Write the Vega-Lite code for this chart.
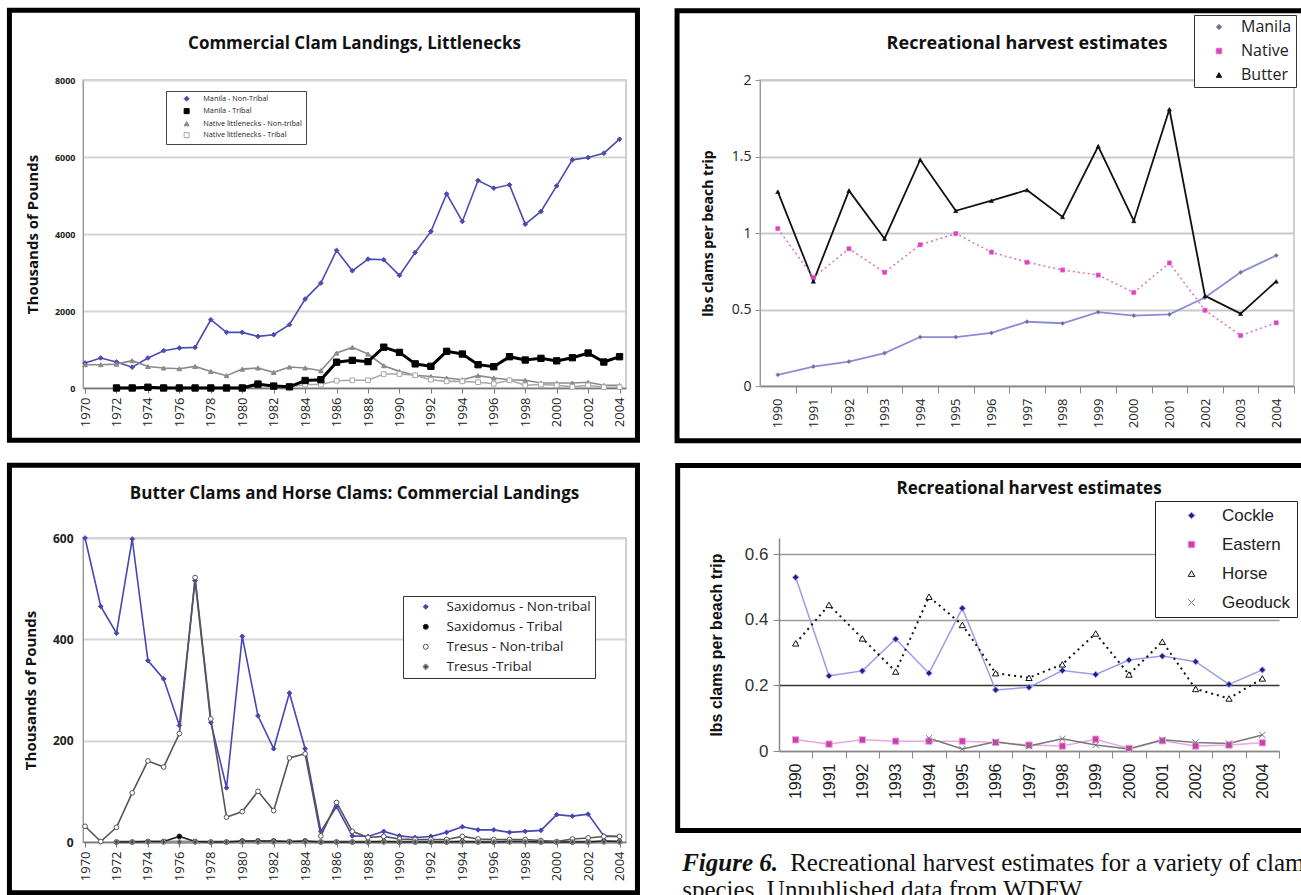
{
"$schema": "https://vega.github.io/schema/vega-lite/v6.json",
"padding": {"left": 5, "top": 6, "right": 0, "bottom": 0},
"background": "white",
"config": {"view": {"stroke": null}, "title": {"font": "Open Sans", "fontWeight": "bold", "color": "#111"}, "axis": {"labelFont": "Open Sans", "titleFont": "Open Sans", "labelColor": "#222", "titleColor": "#111", "grid": false, "labelOverlap": false}, "legend": {"labelFont": "Open Sans", "labelColor": "#222"}},
"datasets": {
"lit": [
{"year":1970,"Manila - Non-Tribal":650,"Native littlenecks - Non-tribal":605},
{"year":1971,"Manila - Non-Tribal":780,"Native littlenecks - Non-tribal":605},
{"year":1972,"Manila - Non-Tribal":675,"Manila - Tribal":0,"Native littlenecks - Non-tribal":620,"Native littlenecks - Tribal":20},
{"year":1973,"Manila - Non-Tribal":540,"Manila - Tribal":0,"Native littlenecks - Non-tribal":710,"Native littlenecks - Tribal":20},
{"year":1974,"Manila - Non-Tribal":780,"Manila - Tribal":20,"Native littlenecks - Non-tribal":560,"Native littlenecks - Tribal":30},
{"year":1975,"Manila - Non-Tribal":970,"Manila - Tribal":0,"Native littlenecks - Non-tribal":520,"Native littlenecks - Tribal":20},
{"year":1976,"Manila - Non-Tribal":1040,"Manila - Tribal":0,"Native littlenecks - Non-tribal":500,"Native littlenecks - Tribal":20},
{"year":1977,"Manila - Non-Tribal":1055,"Manila - Tribal":0,"Native littlenecks - Non-tribal":560,"Native littlenecks - Tribal":20},
{"year":1978,"Manila - Non-Tribal":1773,"Manila - Tribal":0,"Native littlenecks - Non-tribal":430,"Native littlenecks - Tribal":20},
{"year":1979,"Manila - Non-Tribal":1445,"Manila - Tribal":0,"Native littlenecks - Non-tribal":320,"Native littlenecks - Tribal":20},
{"year":1980,"Manila - Non-Tribal":1445,"Manila - Tribal":0,"Native littlenecks - Non-tribal":490,"Native littlenecks - Tribal":20},
{"year":1981,"Manila - Non-Tribal":1340,"Manila - Tribal":100,"Native littlenecks - Non-tribal":520,"Native littlenecks - Tribal":130},
{"year":1982,"Manila - Non-Tribal":1384,"Manila - Tribal":50,"Native littlenecks - Non-tribal":406,"Native littlenecks - Tribal":40},
{"year":1983,"Manila - Non-Tribal":1644,"Manila - Tribal":30,"Native littlenecks - Non-tribal":545,"Native littlenecks - Tribal":30},
{"year":1984,"Manila - Non-Tribal":2310,"Manila - Tribal":195,"Native littlenecks - Non-tribal":520,"Native littlenecks - Tribal":90},
{"year":1985,"Manila - Non-Tribal":2725,"Manila - Tribal":215,"Native littlenecks - Non-tribal":450,"Native littlenecks - Tribal":90},
{"year":1986,"Manila - Non-Tribal":3573,"Manila - Tribal":670,"Native littlenecks - Non-tribal":908,"Native littlenecks - Tribal":190},
{"year":1987,"Manila - Non-Tribal":3045,"Manila - Tribal":718,"Native littlenecks - Non-tribal":1055,"Native littlenecks - Tribal":200},
{"year":1988,"Manila - Non-Tribal":3348,"Manila - Tribal":685,"Native littlenecks - Non-tribal":882,"Native littlenecks - Tribal":200},
{"year":1989,"Manila - Non-Tribal":3330,"Manila - Tribal":1060,"Native littlenecks - Non-tribal":580,"Native littlenecks - Tribal":363},
{"year":1990,"Manila - Non-Tribal":2924,"Manila - Tribal":925,"Native littlenecks - Non-tribal":432,"Native littlenecks - Tribal":363},
{"year":1991,"Manila - Non-Tribal":3520,"Manila - Tribal":627,"Native littlenecks - Non-tribal":330,"Native littlenecks - Tribal":330},
{"year":1992,"Manila - Non-Tribal":4066,"Manila - Tribal":563,"Native littlenecks - Non-tribal":300,"Native littlenecks - Tribal":216},
{"year":1993,"Manila - Non-Tribal":5043,"Manila - Tribal":952,"Native littlenecks - Non-tribal":260,"Native littlenecks - Tribal":173},
{"year":1994,"Manila - Non-Tribal":4325,"Manila - Tribal":882,"Native littlenecks - Non-tribal":216,"Native littlenecks - Tribal":173},
{"year":1995,"Manila - Non-Tribal":5389,"Manila - Tribal":606,"Native littlenecks - Non-tribal":320,"Native littlenecks - Tribal":150},
{"year":1996,"Manila - Non-Tribal":5190,"Manila - Tribal":554,"Native littlenecks - Non-tribal":260,"Native littlenecks - Tribal":110},
{"year":1997,"Manila - Non-Tribal":5277,"Manila - Tribal":813,"Native littlenecks - Non-tribal":216,"Native littlenecks - Tribal":200},
{"year":1998,"Manila - Non-Tribal":4256,"Manila - Tribal":727,"Native littlenecks - Non-tribal":200,"Native littlenecks - Tribal":70},
{"year":1999,"Manila - Non-Tribal":4585,"Manila - Tribal":770,"Native littlenecks - Non-tribal":130,"Native littlenecks - Tribal":90},
{"year":2000,"Manila - Non-Tribal":5251,"Manila - Tribal":705,"Native littlenecks - Non-tribal":130,"Native littlenecks - Tribal":70},
{"year":2001,"Manila - Non-Tribal":5926,"Manila - Tribal":787,"Native littlenecks - Non-tribal":130,"Native littlenecks - Tribal":30},
{"year":2002,"Manila - Non-Tribal":5986,"Manila - Tribal":908,"Native littlenecks - Non-tribal":150,"Native littlenecks - Tribal":70},
{"year":2003,"Manila - Non-Tribal":6099,"Manila - Tribal":675,"Native littlenecks - Non-tribal":70,"Native littlenecks - Tribal":20},
{"year":2004,"Manila - Non-Tribal":6462,"Manila - Tribal":813,"Native littlenecks - Non-tribal":70,"Native littlenecks - Tribal":20}
],
"rec1": [
{"year":1990,"Manila":0.073,"Native":1.029,"Butter":1.27},
{"year":1991,"Manila":0.127,"Native":0.71,"Butter":0.684},
{"year":1992,"Manila":0.16,"Native":0.897,"Butter":1.277},
{"year":1993,"Manila":0.215,"Native":0.743,"Butter":0.963},
{"year":1994,"Manila":0.32,"Native":0.923,"Butter":1.479},
{"year":1995,"Manila":0.32,"Native":0.996,"Butter":1.145},
{"year":1996,"Manila":0.347,"Native":0.875,"Butter":1.211},
{"year":1997,"Manila":0.42,"Native":0.809,"Butter":1.281},
{"year":1998,"Manila":0.41,"Native":0.758,"Butter":1.105},
{"year":1999,"Manila":0.483,"Native":0.725,"Butter":1.567},
{"year":2000,"Manila":0.46,"Native":0.611,"Butter":1.079},
{"year":2001,"Manila":0.468,"Native":0.804,"Butter":1.809},
{"year":2002,"Manila":0.578,"Native":0.495,"Butter":0.589},
{"year":2003,"Manila":0.743,"Native":0.33,"Butter":0.473},
{"year":2004,"Manila":0.853,"Native":0.413,"Butter":0.684}
],
"bh": [
{"year":1970,"Saxidomus - Non-tribal":600,"Tresus - Non-tribal":31},
{"year":1971,"Saxidomus - Non-tribal":465,"Tresus - Non-tribal":1},
{"year":1972,"Saxidomus - Non-tribal":412,"Saxidomus - Tribal":0,"Tresus - Non-tribal":29,"Tresus -Tribal":0},
{"year":1973,"Saxidomus - Non-tribal":598,"Saxidomus - Tribal":0,"Tresus - Non-tribal":97,"Tresus -Tribal":0},
{"year":1974,"Saxidomus - Non-tribal":358,"Saxidomus - Tribal":1,"Tresus - Non-tribal":160,"Tresus -Tribal":0},
{"year":1975,"Saxidomus - Non-tribal":322,"Saxidomus - Tribal":1,"Tresus - Non-tribal":148,"Tresus -Tribal":0},
{"year":1976,"Saxidomus - Non-tribal":230,"Saxidomus - Tribal":11,"Tresus - Non-tribal":214,"Tresus -Tribal":0},
{"year":1977,"Saxidomus - Non-tribal":516,"Saxidomus - Tribal":1,"Tresus - Non-tribal":522,"Tresus -Tribal":0},
{"year":1978,"Saxidomus - Non-tribal":236,"Saxidomus - Tribal":0,"Tresus - Non-tribal":243,"Tresus -Tribal":0},
{"year":1979,"Saxidomus - Non-tribal":107,"Saxidomus - Tribal":0,"Tresus - Non-tribal":49,"Tresus -Tribal":0},
{"year":1980,"Saxidomus - Non-tribal":406,"Saxidomus - Tribal":2,"Tresus - Non-tribal":60,"Tresus -Tribal":0},
{"year":1981,"Saxidomus - Non-tribal":249,"Saxidomus - Tribal":2,"Tresus - Non-tribal":100,"Tresus -Tribal":0},
{"year":1982,"Saxidomus - Non-tribal":184,"Saxidomus - Tribal":2,"Tresus - Non-tribal":62,"Tresus -Tribal":0},
{"year":1983,"Saxidomus - Non-tribal":294,"Saxidomus - Tribal":1,"Tresus - Non-tribal":166,"Tresus -Tribal":0},
{"year":1984,"Saxidomus - Non-tribal":184,"Saxidomus - Tribal":2,"Tresus - Non-tribal":174,"Tresus -Tribal":0},
{"year":1985,"Saxidomus - Non-tribal":21,"Saxidomus - Tribal":0,"Tresus - Non-tribal":12,"Tresus -Tribal":0},
{"year":1986,"Saxidomus - Non-tribal":70,"Saxidomus - Tribal":0,"Tresus - Non-tribal":78,"Tresus -Tribal":0},
{"year":1987,"Saxidomus - Non-tribal":12,"Saxidomus - Tribal":0,"Tresus - Non-tribal":21,"Tresus -Tribal":0},
{"year":1988,"Saxidomus - Non-tribal":11,"Saxidomus - Tribal":0,"Tresus - Non-tribal":9,"Tresus -Tribal":0},
{"year":1989,"Saxidomus - Non-tribal":21,"Saxidomus - Tribal":1,"Tresus - Non-tribal":11,"Tresus -Tribal":0},
{"year":1990,"Saxidomus - Non-tribal":12,"Saxidomus - Tribal":0,"Tresus - Non-tribal":6,"Tresus -Tribal":0},
{"year":1991,"Saxidomus - Non-tribal":9,"Saxidomus - Tribal":0,"Tresus - Non-tribal":5,"Tresus -Tribal":0},
{"year":1992,"Saxidomus - Non-tribal":11,"Saxidomus - Tribal":0,"Tresus - Non-tribal":5,"Tresus -Tribal":0},
{"year":1993,"Saxidomus - Non-tribal":19,"Saxidomus - Tribal":0,"Tresus - Non-tribal":5,"Tresus -Tribal":0},
{"year":1994,"Saxidomus - Non-tribal":30,"Saxidomus - Tribal":1,"Tresus - Non-tribal":11,"Tresus -Tribal":0},
{"year":1995,"Saxidomus - Non-tribal":24,"Saxidomus - Tribal":0,"Tresus - Non-tribal":6,"Tresus -Tribal":0},
{"year":1996,"Saxidomus - Non-tribal":24,"Saxidomus - Tribal":0,"Tresus - Non-tribal":5,"Tresus -Tribal":0},
{"year":1997,"Saxidomus - Non-tribal":19,"Saxidomus - Tribal":1,"Tresus - Non-tribal":5,"Tresus -Tribal":0},
{"year":1998,"Saxidomus - Non-tribal":21,"Saxidomus - Tribal":1,"Tresus - Non-tribal":5,"Tresus -Tribal":0},
{"year":1999,"Saxidomus - Non-tribal":23,"Saxidomus - Tribal":0,"Tresus - Non-tribal":3,"Tresus -Tribal":0},
{"year":2000,"Saxidomus - Non-tribal":54,"Saxidomus - Tribal":0,"Tresus - Non-tribal":1,"Tresus -Tribal":0},
{"year":2001,"Saxidomus - Non-tribal":51,"Saxidomus - Tribal":0,"Tresus - Non-tribal":6,"Tresus -Tribal":0},
{"year":2002,"Saxidomus - Non-tribal":55,"Saxidomus - Tribal":0,"Tresus - Non-tribal":8,"Tresus -Tribal":0},
{"year":2003,"Saxidomus - Non-tribal":12,"Saxidomus - Tribal":2,"Tresus - Non-tribal":11,"Tresus -Tribal":0},
{"year":2004,"Saxidomus - Non-tribal":11,"Saxidomus - Tribal":1,"Tresus - Non-tribal":11,"Tresus -Tribal":0}
],
"rec2": [
{"year":1990,"Cockle":0.529,"Eastern":0.034,"Horse":0.328},
{"year":1991,"Cockle":0.229,"Eastern":0.021,"Horse":0.445},
{"year":1992,"Cockle":0.244,"Eastern":0.034,"Horse":0.343},
{"year":1993,"Cockle":0.341,"Eastern":0.03,"Horse":0.242},
{"year":1994,"Cockle":0.237,"Eastern":0.03,"Horse":0.47,"Geoduck":0.039},
{"year":1995,"Cockle":0.435,"Eastern":0.03,"Horse":0.384,"Geoduck":0.006},
{"year":1996,"Cockle":0.186,"Eastern":0.026,"Horse":0.237,"Geoduck":0.028},
{"year":1997,"Cockle":0.194,"Eastern":0.018,"Horse":0.223,"Geoduck":0.015},
{"year":1998,"Cockle":0.245,"Eastern":0.015,"Horse":0.264,"Geoduck":0.037},
{"year":1999,"Cockle":0.233,"Eastern":0.036,"Horse":0.358,"Geoduck":0.018},
{"year":2000,"Cockle":0.277,"Eastern":0.008,"Horse":0.233,"Geoduck":0.006},
{"year":2001,"Cockle":0.289,"Eastern":0.031,"Horse":0.333,"Geoduck":0.034},
{"year":2002,"Cockle":0.272,"Eastern":0.015,"Horse":0.189,"Geoduck":0.026},
{"year":2003,"Cockle":0.203,"Eastern":0.018,"Horse":0.16,"Geoduck":0.023},
{"year":2004,"Cockle":0.247,"Eastern":0.025,"Horse":0.221,"Geoduck":0.049}
]
},
"spacing": 16,
"resolve": {"scale": {"stroke": "independent", "fill": "independent", "shape": "independent"}, "legend": {"stroke": "independent", "fill": "independent", "shape": "independent"}},
"vconcat": [
{"hconcat": [
{
"width": 543, "height": 308,
"title": {"text": "Commercial Clam Landings, Littlenecks", "fontSize": 17, "offset": -45.5},
"view": {"stroke": "#d0d0d0", "strokeWidth": 2},
"data": {"name": "lit"},
"transform": [{"fold": ["Manila - Non-Tribal", "Manila - Tribal", "Native littlenecks - Non-tribal", "Native littlenecks - Tribal"], "as": ["series", "value"]}],
"layer": [
{"transform": [{"aggregate": [{"op": "count", "as": "n"}]}], "mark": {"type": "rect", "filled": false, "stroke": "#000", "strokeWidth": 5, "clip": false},
"encoding": {"x": {"datum": 1965.19, "type": "quantitative", "scale": {"domain": [1969.87, 2004.41], "nice": false, "zero": false},
"axis": {"title": null, "values": [1970,1972,1974,1976,1978,1980,1982,1984,1986,1988,1990,1992,1994,1996,1998,2000,2002,2004], "format": "d", "labelAngle": -90, "labelFontSize": 13, "labelPadding": 4, "labelOverlap": false, "tickSize": 5, "tickColor": "#777", "domainColor": "#777", "domainWidth": 1.5, "grid": false}},
"x2": {"datum": 2005.14},
"y": {"datum": 9810, "type": "quantitative", "scale": {"domain": [0, 8000], "nice": false},
"axis": {"title": "Thousands of Pounds", "titleFontSize": 15, "titleFontWeight": "bold", "titlePadding": 14, "values": [0, 2000, 4000, 6000, 8000], "format": "d", "labelFontSize": 9, "labelFontWeight": "bold", "labelPadding": 8, "labelOverlap": false, "ticks": false, "domainColor": "#999", "grid": true, "gridColor": "#d4d4d4", "gridWidth": 2}},
"y2": {"datum": -1358}}},
{"encoding": {
"x": {"field": "year", "type": "quantitative", "scale": {"domain": [1969.87, 2004.41], "nice": false, "zero": false},
"axis": {"title": null, "values": [1970,1972,1974,1976,1978,1980,1982,1984,1986,1988,1990,1992,1994,1996,1998,2000,2002,2004], "format": "d", "labelAngle": -90, "labelFontSize": 13, "labelPadding": 4, "labelOverlap": false, "tickSize": 5, "tickColor": "#777", "domainColor": "#777", "domainWidth": 1.5, "grid": false}},
"y": {"field": "value", "type": "quantitative", "scale": {"domain": [0, 8000], "nice": false},
"axis": {"title": "Thousands of Pounds", "titleFontSize": 15, "titleFontWeight": "bold", "titlePadding": 14, "values": [0, 2000, 4000, 6000, 8000], "format": "d", "labelFontSize": 9, "labelFontWeight": "bold", "labelPadding": 8, "labelOverlap": false, "ticks": false, "domainColor": "#999", "grid": true, "gridColor": "#d4d4d4", "gridWidth": 2}}
},
"layer": [
{"transform": [{"filter": "datum.series != 'Manila - Tribal'"}], "mark": {"type": "line", "strokeWidth": 1.6},
"encoding": {"stroke": {"field": "series", "type": "nominal", "scale": {"domain": ["Manila - Non-Tribal", "Manila - Tribal", "Native littlenecks - Non-tribal", "Native littlenecks - Tribal"], "range": ["#4b4bb0", "#000000", "#8a8a8a", "#a8a8a8"]},
"legend": {"title": null, "orient": "none", "legendX": 83, "legendY": 11, "labelFontSize": 7.3, "strokeColor": "#444", "fillColor": "#fff", "padding": 4, "rowPadding": 2.5, "symbolSize": 25, "symbolStrokeWidth": 1, "symbolOffset": 13, "labelOffset": 13}}}},
{"transform": [{"filter": "datum.series == 'Manila - Tribal'"}], "mark": {"type": "line", "strokeWidth": 3},
"encoding": {"stroke": {"field": "series", "type": "nominal"}}},
{"transform": [{"filter": "datum.series != 'Manila - Tribal'"}], "mark": {"type": "point", "filled": true, "size": 22, "strokeWidth": 1, "opacity": 1},
"encoding": {"stroke": {"field": "series", "type": "nominal"},
"fill": {"field": "series", "type": "nominal", "scale": {"domain": ["Manila - Non-Tribal", "Manila - Tribal", "Native littlenecks - Non-tribal", "Native littlenecks - Tribal"], "range": ["#4b4bb0", "#000000", "#8a8a8a", "#ffffff"]}},
"shape": {"field": "series", "type": "nominal", "scale": {"domain": ["Manila - Non-Tribal", "Manila - Tribal", "Native littlenecks - Non-tribal", "Native littlenecks - Tribal"], "range": ["diamond", "square", "triangle-up", "square"]}}}},
{"transform": [{"filter": "datum.series == 'Manila - Tribal'"}], "mark": {"type": "point", "filled": true, "size": 40, "strokeWidth": 1, "opacity": 1},
"encoding": {"stroke": {"field": "series", "type": "nominal"}, "fill": {"field": "series", "type": "nominal"}, "shape": {"field": "series", "type": "nominal"}}}
]}
]
},
{
"width": 534, "height": 306,
"title": {"text": "Recreational harvest estimates", "fontSize": 18, "offset": -44.5},
"view": {"stroke": "#d0d0d0", "strokeWidth": 2},
"data": {"name": "rec1"},
"transform": [{"fold": ["Manila", "Native", "Butter"], "as": ["series", "value"]}],
"layer": [
{"transform": [{"aggregate": [{"op": "count", "as": "n"}]}], "mark": {"type": "rect", "filled": false, "stroke": "#000", "strokeWidth": 5, "clip": false},
"encoding": {"x": {"datum": 1987.17, "type": "quantitative", "scale": {"domain": [1989.5, 2004.5], "nice": false, "zero": false},
"axis": {"title": null, "values": [1990,1991,1992,1993,1994,1995,1996,1997,1998,1999,2000,2001,2002,2003,2004], "format": "d", "labelAngle": -90, "labelFontSize": 13, "labelPadding": 5, "labelOverlap": false, "tickSize": 7, "tickColor": "#888", "tickOffset": 17.8, "labelOffset": -17.8, "domainColor": "#888", "domainWidth": 1.5, "grid": false}},
"x2": {"datum": 2004.84},
"y": {"datum": 2.453, "type": "quantitative", "scale": {"domain": [0, 2], "nice": false},
"axis": {"title": "lbs clams per beach trip", "titleFontSize": 14, "titleFontWeight": "bold", "titlePadding": 16, "values": [0, 0.5, 1, 1.5, 2], "format": "~g", "labelFontSize": 14, "labelPadding": 4, "labelOverlap": false, "tickSize": 5, "tickColor": "#999", "domainColor": "#999", "grid": true, "gridColor": "#cacaca", "gridWidth": 2}},
"y2": {"datum": -0.3575}}},
{"encoding": {
"x": {"field": "year", "type": "quantitative", "scale": {"domain": [1989.5, 2004.5], "nice": false, "zero": false},
"axis": {"title": null, "values": [1990,1991,1992,1993,1994,1995,1996,1997,1998,1999,2000,2001,2002,2003,2004], "format": "d", "labelAngle": -90, "labelFontSize": 13, "labelPadding": 5, "labelOverlap": false, "tickSize": 7, "tickColor": "#888", "tickOffset": 17.8, "labelOffset": -17.8, "domainColor": "#888", "domainWidth": 1.5, "grid": false}},
"y": {"field": "value", "type": "quantitative", "scale": {"domain": [0, 2], "nice": false},
"axis": {"title": "lbs clams per beach trip", "titleFontSize": 14, "titleFontWeight": "bold", "titlePadding": 16, "values": [0, 0.5, 1, 1.5, 2], "format": "~g", "labelFontSize": 14, "labelPadding": 4, "labelOverlap": false, "tickSize": 5, "tickColor": "#999", "domainColor": "#999", "grid": true, "gridColor": "#cacaca", "gridWidth": 2}}
},
"layer": [
{"transform": [{"filter": "datum.series != 'Native'"}], "mark": {"type": "line", "strokeWidth": 1.8},
"encoding": {"stroke": {"field": "series", "type": "nominal", "scale": {"domain": ["Manila", "Native", "Butter"], "range": ["#8b8bdc", "#e06ec8", "#111111"]},
"legend": {"title": null, "orient": "none", "legendX": 434, "legendY": -65, "labelFontSize": 16, "strokeColor": "#333", "fillColor": "#fff", "padding": 4, "rowPadding": 8, "symbolSize": 30, "symbolStrokeWidth": 1, "symbolOffset": 13, "labelOffset": 14}}}},
{"transform": [{"filter": "datum.series == 'Native'"}], "mark": {"type": "line", "strokeWidth": 1.5, "strokeDash": [2, 3]},
"encoding": {"stroke": {"field": "series", "type": "nominal"}}},
{"mark": {"type": "point", "filled": true, "size": 18, "strokeWidth": 0.6, "opacity": 1},
"encoding": {"stroke": {"field": "series", "type": "nominal"},
"fill": {"field": "series", "type": "nominal", "scale": {"domain": ["Manila", "Native", "Butter"], "range": ["#707070", "#e040c0", "#111111"]}},
"shape": {"field": "series", "type": "nominal", "scale": {"domain": ["Manila", "Native", "Butter"], "range": ["diamond", "square", "triangle-up"]}}}}
]}
]
}
], "spacing": 32, "resolve": {"scale": {"stroke": "independent", "fill": "independent", "shape": "independent"}, "legend": {"stroke": "independent", "fill": "independent", "shape": "independent"}}},
{"hconcat": [
{
"width": 543, "height": 304,
"title": {"text": "Butter Clams and Horse Clams: Commercial Landings", "fontSize": 17, "offset": -40},
"view": {"stroke": "#d0d0d0", "strokeWidth": 2},
"data": {"name": "bh"},
"transform": [{"fold": ["Saxidomus - Non-tribal", "Saxidomus - Tribal", "Tresus - Non-tribal", "Tresus -Tribal"], "as": ["series", "value"]}],
"layer": [
{"transform": [{"aggregate": [{"op": "count", "as": "n"}]}], "mark": {"type": "rect", "filled": false, "stroke": "#000", "strokeWidth": 5, "clip": false},
"encoding": {"x": {"datum": 1965.19, "type": "quantitative", "scale": {"domain": [1969.87, 2004.41], "nice": false, "zero": false},
"axis": {"title": null, "values": [1970,1972,1974,1976,1978,1980,1982,1984,1986,1988,1990,1992,1994,1996,1998,2000,2002,2004], "format": "d", "labelAngle": -90, "labelFontSize": 13, "labelPadding": 4, "labelOverlap": false, "tickSize": 5, "tickColor": "#777", "domainColor": "#777", "domainWidth": 1.5, "grid": false}},
"x2": {"datum": 2005.14},
"y": {"datum": 743.7, "type": "quantitative", "scale": {"domain": [0, 600], "nice": false},
"axis": {"title": "Thousands of Pounds", "titleFontSize": 15, "titleFontWeight": "bold", "titlePadding": 14, "values": [0, 200, 400, 600], "format": "d", "labelFontSize": 12, "labelFontWeight": "bold", "labelPadding": 10, "labelOverlap": false, "ticks": false, "domainColor": "#999", "grid": true, "gridColor": "#d4d4d4", "gridWidth": 2}},
"y2": {"datum": -100}}},
{"encoding": {
"x": {"field": "year", "type": "quantitative", "scale": {"domain": [1969.87, 2004.41], "nice": false, "zero": false},
"axis": {"title": null, "values": [1970,1972,1974,1976,1978,1980,1982,1984,1986,1988,1990,1992,1994,1996,1998,2000,2002,2004], "format": "d", "labelAngle": -90, "labelFontSize": 13, "labelPadding": 4, "labelOverlap": false, "tickSize": 5, "tickColor": "#777", "domainColor": "#777", "domainWidth": 1.5, "grid": false}},
"y": {"field": "value", "type": "quantitative", "scale": {"domain": [0, 600], "nice": false},
"axis": {"title": "Thousands of Pounds", "titleFontSize": 15, "titleFontWeight": "bold", "titlePadding": 14, "values": [0, 200, 400, 600], "format": "d", "labelFontSize": 12, "labelFontWeight": "bold", "labelPadding": 10, "labelOverlap": false, "ticks": false, "domainColor": "#999", "grid": true, "gridColor": "#d4d4d4", "gridWidth": 2}}
},
"layer": [
{"transform": [{"filter": "datum.series == 'Tresus -Tribal'"}], "mark": {"type": "line", "strokeWidth": 3},
"encoding": {"stroke": {"field": "series", "type": "nominal", "scale": {"domain": ["Saxidomus - Non-tribal", "Saxidomus - Tribal", "Tresus - Non-tribal", "Tresus -Tribal"], "range": ["#4646b4", "#222222", "#555555", "#8c8c8c"]},
"legend": {"title": null, "orient": "none", "legendX": 320, "legendY": 58, "labelFontSize": 13.5, "strokeColor": "#333", "fillColor": "#fff", "padding": 4, "rowPadding": 5, "symbolSize": 25, "symbolStrokeWidth": 1, "symbolOffset": 12, "labelOffset": 14}}}},
{"transform": [{"filter": "datum.series != 'Tresus -Tribal'"}], "mark": {"type": "line", "strokeWidth": 1.6},
"encoding": {"stroke": {"field": "series", "type": "nominal"}}},
{"mark": {"type": "point", "filled": true, "size": 22, "strokeWidth": 1, "opacity": 1},
"encoding": {"stroke": {"field": "series", "type": "nominal"},
"fill": {"field": "series", "type": "nominal", "scale": {"domain": ["Saxidomus - Non-tribal", "Saxidomus - Tribal", "Tresus - Non-tribal", "Tresus -Tribal"], "range": ["#4646b4", "#000000", "#ffffff", "#444444"]}},
"shape": {"field": "series", "type": "nominal", "scale": {"domain": ["Saxidomus - Non-tribal", "Saxidomus - Tribal", "Tresus - Non-tribal", "Tresus -Tribal"], "range": ["diamond", "circle", "circle", "cross"]}}}}
]}
]
},
{"vconcat": [{"vconcat": [{"vconcat": [
{
"width": 500, "height": 213,
"title": {"text": "Recreational harvest estimates", "fontSize": 17, "offset": -35},
"data": {"name": "rec2"},
"transform": [{"fold": ["Cockle", "Eastern", "Horse", "Geoduck"], "as": ["series", "value"]}],
"layer": [
{"transform": [{"aggregate": [{"op": "count", "as": "n"}]}], "mark": {"type": "rect", "filled": false, "stroke": "#000", "strokeWidth": 5, "clip": false},
"encoding": {"x": {"datum": 1986.46, "type": "quantitative", "scale": {"domain": [1989.5, 2004.5], "nice": false, "zero": false},
"axis": {"title": null, "values": [1990,1991,1992,1993,1994,1995,1996,1997,1998,1999,2000,2001,2002,2003,2004], "format": "d", "labelAngle": -90, "labelFont": "Liberation Sans", "labelFontSize": 16, "labelPadding": 5, "labelOverlap": false, "tickSize": 7, "tickColor": "#888", "tickOffset": 16.7, "labelOffset": -16.7, "domainColor": "#888", "domainWidth": 1.5, "grid": false}},
"x2": {"datum": 2005.26},
"y": {"datum": 0.8696, "type": "quantitative", "scale": {"domain": [0, 0.6488], "nice": false},
"axis": {"title": "lbs clams per beach trip", "titleFont": "Liberation Sans", "titleFontSize": 16, "titleFontWeight": "bold", "titlePadding": 20, "values": [0, 0.2, 0.4, 0.6], "format": "~g", "labelFont": "Liberation Sans", "labelFontSize": 17, "labelColor": "#333", "labelPadding": 5, "labelOverlap": false, "tickSize": 6, "tickColor": "#888", "domainColor": "#888", "domainWidth": 1.5, "grid": true, "gridColor": {"condition": {"test": "datum.value === 0.2", "value": "#333"}, "value": "#9a9a9a"}, "gridWidth": 1.5}},
"y2": {"datum": -0.2422}}},
{"encoding": {
"x": {"field": "year", "type": "quantitative", "scale": {"domain": [1989.5, 2004.5], "nice": false, "zero": false},
"axis": {"title": null, "values": [1990,1991,1992,1993,1994,1995,1996,1997,1998,1999,2000,2001,2002,2003,2004], "format": "d", "labelAngle": -90, "labelFont": "Liberation Sans", "labelFontSize": 16, "labelPadding": 5, "labelOverlap": false, "tickSize": 7, "tickColor": "#888", "tickOffset": 16.7, "labelOffset": -16.7, "domainColor": "#888", "domainWidth": 1.5, "grid": false}},
"y": {"field": "value", "type": "quantitative", "scale": {"domain": [0, 0.6488], "nice": false},
"axis": {"title": "lbs clams per beach trip", "titleFont": "Liberation Sans", "titleFontSize": 16, "titleFontWeight": "bold", "titlePadding": 20, "values": [0, 0.2, 0.4, 0.6], "format": "~g", "labelFont": "Liberation Sans", "labelFontSize": 17, "labelColor": "#333", "labelPadding": 5, "labelOverlap": false, "tickSize": 6, "tickColor": "#888", "domainColor": "#888", "domainWidth": 1.5, "grid": true, "gridColor": {"condition": {"test": "datum.value === 0.2", "value": "#333"}, "value": "#9a9a9a"}, "gridWidth": 1.5}}
},
"layer": [
{"transform": [{"filter": "datum.series != 'Horse'"}], "mark": {"type": "line", "strokeWidth": 1.5},
"encoding": {"stroke": {"field": "series", "type": "nominal", "scale": {"domain": ["Cockle", "Eastern", "Horse", "Geoduck"], "range": ["#9c9ce8", "#e8a8de", "#111111", "#777777"]},
"legend": {"title": null, "orient": "none", "legendX": 376, "legendY": -37, "labelFont": "Liberation Sans", "labelFontSize": 17, "strokeColor": "#222", "fillColor": "#fff", "padding": 6, "rowPadding": 11, "symbolSize": 45, "symbolStrokeWidth": 1, "symbolOffset": 22, "labelOffset": 22}}}},
{"transform": [{"filter": "datum.series == 'Horse'"}], "mark": {"type": "line", "strokeWidth": 2, "strokeDash": [2, 4]},
"encoding": {"stroke": {"field": "series", "type": "nominal"}}},
{"mark": {"type": "point", "filled": true, "size": 40, "strokeWidth": 1, "opacity": 1},
"encoding": {"stroke": {"field": "series", "type": "nominal"},
"fill": {"field": "series", "type": "nominal", "scale": {"domain": ["Cockle", "Eastern", "Horse", "Geoduck"], "range": ["#1e1e8c", "#cc3fab", "#ffffff", "transparent"]}},
"shape": {"field": "series", "type": "nominal", "scale": {"domain": ["Cockle", "Eastern", "Horse", "Geoduck"], "range": ["diamond", "square", "triangle-up", "M-1,-1L1,1M-1,1L1,-1"]}}}}
]}
]
}
],
"title": {"text": "Figure 6.", "orient": "bottom", "anchor": "start", "font": "Liberation Serif", "fontSize": 25, "fontStyle": "italic", "fontWeight": "bold", "color": "#111", "offset": 18, "dx": 7}}
],
"title": {"text": "Recreational harvest estimates for a variety of clam", "orient": "bottom", "anchor": "start", "font": "Liberation Serif", "fontSize": 25, "fontWeight": "normal", "color": "#111", "offset": -25, "dx": 115}}
],
"title": {"text": "species. Unpublished data from WDFW.", "orient": "bottom", "anchor": "start", "font": "Liberation Serif", "fontSize": 25, "fontWeight": "normal", "color": "#111", "offset": 2, "dx": 7}}
], "spacing": 34, "resolve": {"scale": {"stroke": "independent", "fill": "independent", "shape": "independent"}, "legend": {"stroke": "independent", "fill": "independent", "shape": "independent"}}}
]
}
